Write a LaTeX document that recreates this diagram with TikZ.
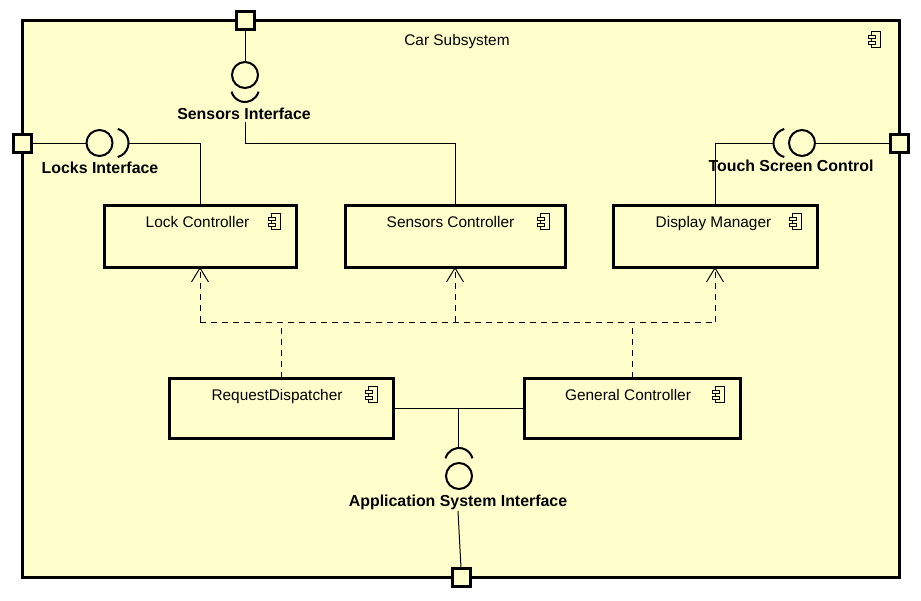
\documentclass[tikz,border=0pt]{standalone}
\usepackage{fontspec}
\setmainfont{Liberation Sans}
\usetikzlibrary{arrows.meta}
\definecolor{compfill}{HTML}{FFFFCC}
\begin{document}
\begin{tikzpicture}[x=1pt,y=-1pt,
 comp/.style={draw,line width=3pt,fill=compfill,inner sep=0pt,outer sep=0pt},
 port/.style={draw,line width=3pt,fill=compfill,minimum size=18pt,inner sep=0pt,outer sep=0pt},
 conn/.style={line width=1pt},
 iface/.style={draw,circle,line width=2pt,minimum size=26pt,inner sep=0pt,outer sep=0pt},
 sock/.style={line width=2pt},
 ctext/.style={font=\fontsize{15.4}{18}\selectfont,inner sep=0pt,anchor=base},
 ltext/.style={font=\fontsize{15.9}{18}\selectfont\bfseries,inner sep=0pt,anchor=base},
 dep/.style={line width=1pt,dash pattern=on 6pt off 5pt},
 deparrow/.style={-{Straight Barb[length=14pt,width=17pt]}},
 compicon/.pic={
   \draw[line width=1pt,fill=compfill] (-24.5,8.5) rectangle (-15.5,24);
   \draw[line width=1pt,fill=compfill] (-27.5,12) rectangle (-21,15);
   \draw[line width=1pt,fill=compfill] (-27.5,18) rectangle (-21,21);
 }
]
\fill[white] (0,0) rectangle (921,600);
\useasboundingbox (0,0) rectangle (921,600);

% outer frame
\node[comp,minimum width=877pt,minimum height=557pt] (frame) at (460.5,298.5) {};
\pic at ([shift={(-3,3)}]frame.north east) {compicon};
\node[ctext] (title) at (457,45.5) {Car Subsystem};

% components
\node[comp,minimum width=192pt,minimum height=62pt] (lc) at (200,236) {};
\node[comp,minimum width=220pt,minimum height=62pt] (sc) at (455,236) {};
\node[comp,minimum width=204pt,minimum height=62pt] (dm) at (715,236) {};
\node[comp,minimum width=224pt,minimum height=60pt] (rd) at (281,408) {};
\node[comp,minimum width=216pt,minimum height=60pt] (gc) at (632,408) {};
\pic at (lc.north east) {compicon};
\pic at (sc.north east) {compicon};
\pic at (dm.north east) {compicon};
\pic at (rd.north east) {compicon};
\pic at (gc.north east) {compicon};
\node[ctext] (lcT) at (197.5,227.5) {Lock Controller};
\node[ctext] (scT) at (450.5,227.5) {Sensors Controller};
\node[ctext] (dmT) at (713.5,227.5) {Display Manager};
\node[ctext] (rdT) at (277,400.5) {RequestDispatcher};
\node[ctext] (gcT) at (628,400.5) {General Controller};

% ports
\node[port] (ptop) at (245,20) {};
\node[port] (pleft) at (22,143) {};
\node[port] (pright) at (899,143) {};
\node[port] (pbot) at (461,577) {};

% Sensors Interface
\node[iface] (sI) at (245,75) {};
\draw[sock] (245,88) ++(15:14) arc[start angle=15,end angle=165,radius=14];
\node[ltext] (sIL) at (244,119.5) {Sensors Interface};
\coordinate (sIs) at (245,122);
\coordinate (sIb) at (245,143);
\draw[conn] (ptop.south) -- (sI.north);
\draw[conn] (sIs) -- (sIb) -| (sc.north);

% Locks Interface
\node[iface] (lI) at (99.5,143) {};
\draw[sock] (114,143) ++(-75:14.5) arc[start angle=-75,end angle=75,radius=14.5];
\coordinate (lIs) at (128.5,143);
\node[ltext] (lIL) at (100,173.3) {Locks Interface};
\draw[conn] (pleft.east) -- (lI.west);
\draw[conn] (lIs) -| (lc.north);

% Touch Screen Control
\node[iface] (tI) at (802,143) {};
\draw[sock] (788,143) ++(105:14.5) arc[start angle=105,end angle=255,radius=14.5];
\coordinate (tIs) at (773.5,143);
\node[ltext] (tIL) at (791,171.7) {Touch Screen Control};
\draw[conn] (pright.west) -- (tI.east);
\draw[conn] (tIs) -| (dm.north);

% Application System Interface
\coordinate (aJ) at (458,408);
\coordinate (aTop) at (458,448);
\draw[conn] (rd.east) -- (gc.west);
\draw[conn] (aJ) -- (aTop);
\draw[sock] (459,462) ++(-165:14) arc[start angle=-165,end angle=-15,radius=14];
\node[iface] (aI) at (459,476) {};
\node[ltext] (aIL) at (458,506.7) {Application System Interface};
\coordinate (aLow) at (458,511);
\draw[conn] (aLow) -- (pbot.north);

% dependencies
\coordinate (dL) at (lc.south |- 0,322);
\coordinate (dM) at (sc.south |- 0,322);
\coordinate (dR) at (dm.south |- 0,322);
\draw[dep] (dL) -- (dR);
\draw[dep] (rd.north) -- (rd.north |- dL);
\draw[dep] (gc.north) -- (gc.north |- dL);
\draw[dep,deparrow] (dL) -- (lc.south);
\draw[dep,deparrow] (dM) -- (sc.south);
\draw[dep,deparrow] (dR) -- (dm.south);
\end{tikzpicture}
\end{document}
